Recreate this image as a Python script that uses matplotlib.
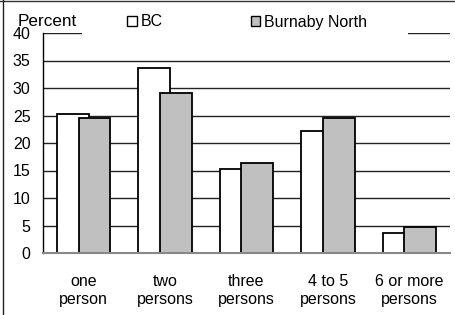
import matplotlib
matplotlib.use("Agg")
import matplotlib.pyplot as plt
import numpy as np
from matplotlib.patches import Rectangle
from matplotlib.lines import Line2D

plt.rcParams['font.family'] = ['Liberation Sans', 'DejaVu Sans']

categories = ["one\nperson", "two\npersons", "three\npersons", "4 to 5\npersons", "6 or more\npersons"]
bc = [25.3, 33.7, 15.3, 22.2, 3.6]
burnaby_north = [24.6, 29.1, 16.4, 24.6, 4.8]
series_names = ["BC", "Burnaby North"]
yticks = [0, 5, 10, 15, 20, 25, 30, 35, 40]

W, H = 456, 315
FS = 11.5
fig = plt.figure(figsize=(W / 100, H / 100), dpi=100)
ax = fig.add_axes([43 / W, 1 - 253 / H, (450 - 43) / W, (253 - 33) / H])

x = np.arange(len(categories))
bw = 0.39
off = 0.133
ax.bar(x - off, bc, bw, color='white', edgecolor='black', linewidth=1.3, zorder=3, label=series_names[0])
ax.bar(x + off, burnaby_north, bw, color='#c0c0c0', edgecolor='black', linewidth=1.3, zorder=4, label=series_names[1])

ax.set_xlim(-0.5, len(categories) - 0.5)
ax.set_ylim(0, 40)
ax.set_yticks(yticks)
ax.set_yticklabels([str(v) for v in yticks], fontsize=FS)
ax.set_xticks(x)
ax.set_xticklabels(categories, fontsize=FS, linespacing=1.3)
ax.tick_params(axis='y', length=0, pad=9)
ax.tick_params(axis='x', length=0, pad=15)
ax.yaxis.grid(True, color='#222222', linewidth=1.0, zorder=0)
ax.set_axisbelow(True)
for s in ['top', 'right']:
    ax.spines[s].set_visible(False)
ax.spines['left'].set_color('black')
ax.spines['left'].set_linewidth(1.0)
ax.spines['bottom'].set_color('#888888')
ax.spines['bottom'].set_linewidth(1.5)
ax.spines['bottom'].set_zorder(5)

# white box covering top gridline behind legend
fig.patches.append(Rectangle((82 / W, 1 - 40 / H), (408 - 82) / W, 30 / H,
                             transform=fig.transFigure, facecolor='white',
                             edgecolor='none', zorder=10))

fig.text(18 / W, 1 - 21 / H, "Percent", fontsize=12.3, va='center', ha='left', zorder=11)

handles = [Rectangle((0, 0), 1, 1, facecolor='white', edgecolor='black', linewidth=1.0),
           Rectangle((0, 0), 1, 1, facecolor='#c0c0c0', edgecolor='black', linewidth=1.0)]
leg = fig.legend(handles, series_names, ncol=2, frameon=False, fontsize=FS,
                 loc='center left', bbox_to_anchor=(127 / W, 1 - 22 / H),
                 handlelength=0.6, handleheight=0.6, handletextpad=0.25,
                 columnspacing=5.5, borderaxespad=0, borderpad=0)
leg.set_zorder(12)

# figure frame (top and left)
fig.add_artist(Line2D([0, 1], [1 - 0.5 / H, 1 - 0.5 / H], transform=fig.transFigure,
                      color='#333333', linewidth=1.0))
fig.add_artist(Line2D([3 / W, 3 / W], [0, 1], transform=fig.transFigure,
                      color='#222222', linewidth=1.0))

fig.savefig("out.png", dpi=100)
